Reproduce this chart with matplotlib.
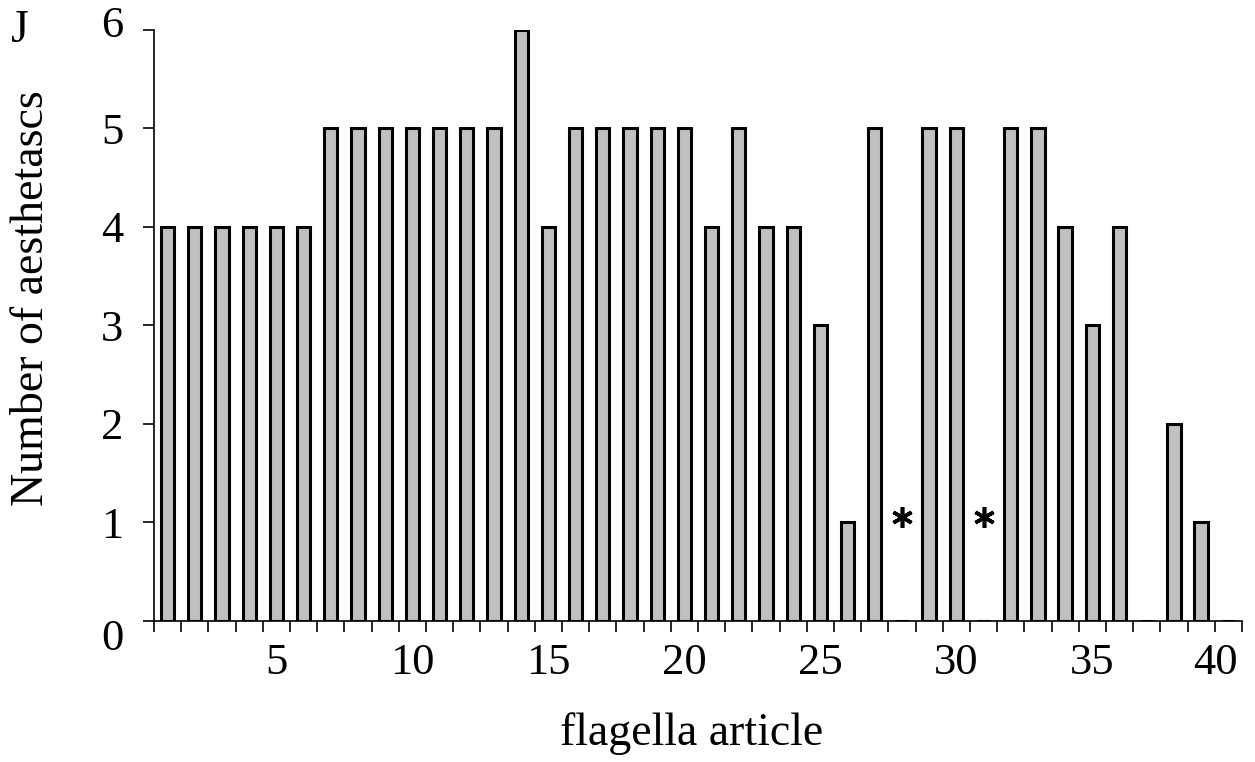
import numpy as np
import matplotlib.pyplot as plt
import matplotlib.transforms as mtransforms
from matplotlib.ticker import FixedLocator

plt.rcParams['font.family'] = ['Liberation Serif', 'DejaVu Serif']

# flagella articles 1..40 and aesthetasc counts (0 = no bar)
articles = np.arange(1, 41)
counts = [4, 4, 4, 4, 4, 4, 5, 5, 5, 5,
          5, 5, 5, 6, 4, 5, 5, 5, 5, 5,
          4, 5, 4, 4, 3, 1, 5, 0, 5, 5,
          0, 5, 5, 4, 3, 4, 0, 2, 1, 0]
# articles marked with an asterisk
star_articles = [28, 31]
star_level = [1, 1]
x_labels = [5, 10, 15, 20, 25, 30, 35, 40]

fig = plt.figure(figsize=(12.55, 7.62), dpi=100)
ax = fig.add_axes([0.1227, 0.185, 0.8669, 0.776])

ax.bar(articles, counts, width=0.49, color='#c0c0c0', edgecolor='black', linewidth=2.2)

# six-armed asterisk, sitting slightly above the 1 line like in the original
star_trans = mtransforms.offset_copy(ax.transData, fig=fig, x=0, y=4, units='points')
ax.plot(star_articles, star_level, linestyle='none', marker=(6, 2, 0), markersize=15,
        markeredgewidth=2.6, color='black', transform=star_trans)

ax.set_xlim(0.5, 40.5)
ax.set_ylim(0, 6)

ax.spines['top'].set_visible(False)
ax.spines['right'].set_visible(False)
ax.spines['left'].set_linewidth(1.2)
ax.spines['bottom'].set_linewidth(1.2)

ax.set_yticks(range(0, 7))
ax.tick_params(axis='y', direction='out', length=8, width=1.2, labelsize=32, pad=14)

ax.set_xticks(x_labels)
ax.xaxis.set_minor_locator(FixedLocator(np.arange(0.5, 41, 1)))
ax.tick_params(axis='x', which='major', length=0, labelsize=32, pad=16)
ax.tick_params(axis='x', which='minor', direction='out', length=8, width=1.2)

# the end labels sit a little off in the original
ylabs = ax.get_yticklabels()
ylabs[0].set_transform(ylabs[0].get_transform() +
                       mtransforms.ScaledTranslation(0, -10 / 72, fig.dpi_scale_trans))
ylabs[-1].set_transform(ylabs[-1].get_transform() +
                        mtransforms.ScaledTranslation(0, 6 / 72, fig.dpi_scale_trans))
xlabs = ax.get_xticklabels()
xlabs[-1].set_transform(xlabs[-1].get_transform() +
                        mtransforms.ScaledTranslation(-9 / 72, 0, fig.dpi_scale_trans))

fig.text(0.551, 0.0223, 'flagella article', fontsize=33, ha='center', va='baseline')
fig.text(0.0255, 0.609, 'Number of aesthetascs', fontsize=33, rotation=90,
         ha='center', va='center')

fig.text(0.0155, 0.96, 'J', fontsize=33, ha='center', va='center')

fig.savefig('out.png', dpi=100)
